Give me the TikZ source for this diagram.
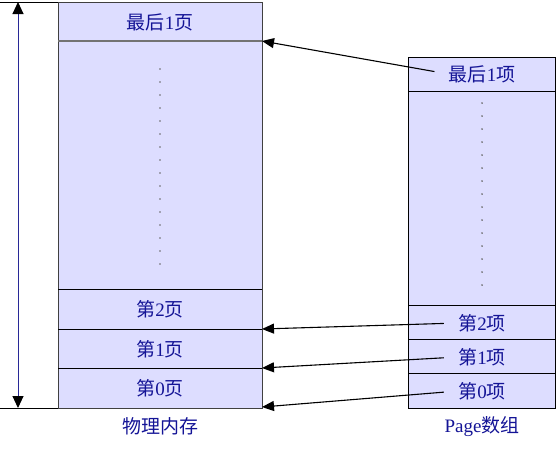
\documentclass[tikz,border=0pt]{standalone}
\usepackage{fontspec}
\setmainfont{Liberation Serif}
\newfontfamily\cjk{Noto Sans CJK SC}
\usetikzlibrary{arrows.meta, positioning}
\definecolor{cellfill}{RGB}{221,221,255}
\definecolor{labelblue}{RGB}{20,20,150}
\definecolor{axisblue}{RGB}{40,40,150}
\tikzstyle{cell}=[fill=cellfill, draw=black!75]
\tikzstyle{lbl}=[text=labelblue, font=\fontsize{19}{19}\selectfont, inner sep=0pt]
\tikzstyle{dot}=[circle, fill=black!60, inner sep=0.7pt]
\tikzstyle{ptr}=[-{Triangle[length=12pt,width=10pt]}, black, line width=1.1pt, shorten <=14pt]
\newcommand{\zh}[1]{{\cjk #1}}

\begin{document}
\begin{tikzpicture}[x=1pt, y=-1pt, line width=1pt]
		\useasboundingbox (0,0) rectangle (557,448);

		% physical memory
		\draw[cell] (58,2) rectangle (262,408);
		\draw[black!55, line width=2pt] (58,41) -- (262,41);
		\foreach \y in {289,329,368}
		\draw (58,\y) -- (262,\y);
		\foreach \i in {0,...,15}
		\node[dot] at (160,69+13*\i) {};

		\node[lbl] (m3) at (160,22) {\zh{最后}1\zh{页}};
		\node[lbl] (m2) at (160,309) {\zh{第}2\zh{页}};
		\node[lbl] (m1) at (160,349) {\zh{第}1\zh{页}};
		\node[lbl] (m0) at (160,388) {\zh{第}0\zh{页}};
		\node[lbl] (mem) at (160,426) {\zh{物理内存}};

		% size marker
		\coordinate (top) at (18,2);
		\coordinate (bot) at (18,408);
		\draw (0,2) -- (58,2);
		\draw (0,408) -- (58,408);
		\draw[axisblue, {Triangle[length=12pt,width=11pt,color=black]}-{Triangle[length=12pt,width=11pt,color=black]}] (top) -- (bot);

		% page array
		\draw[cell, draw=black] (408,57) rectangle (555,408);
		\foreach \y in {91,305,339,373}
		\draw (408,\y) -- (555,\y);
		\foreach \i in {0,...,14}
		\node[dot] at (482,103+13*\i) {};

		\node[lbl] (p3) at (482,74) {\zh{最后}1\zh{项}};
		\node[lbl] (p2) at (482,323) {\zh{第}2\zh{项}};
		\node[lbl] (p1) at (482,357) {\zh{第}1\zh{项}};
		\node[lbl] (p0) at (482,391) {\zh{第}0\zh{项}};
		\node[lbl] (arr) at (482,427) {Page\zh{数组}};

		% page -> frame
		\coordinate (e3) at (262,41);
		\coordinate (e2) at (262,329);
		\coordinate (e1) at (262,368);
		\coordinate (e0) at (262,407);
		\foreach \x in {0,...,3}
		\draw[ptr] (p\x.west) -- (e\x);

	\end{tikzpicture}
\end{document}
